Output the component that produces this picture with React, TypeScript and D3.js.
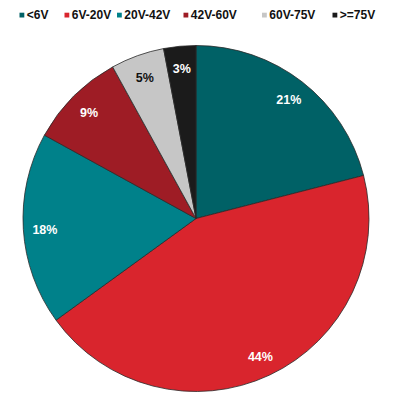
import React from "react";
import * as d3 from "d3";

const categories = ["<6V", "6V-20V", "20V-42V", "42V-60V", "60V-75V", ">=75V"];
const values = [21, 44, 18, 9, 5, 3];
const colors = ["#006166", "#d9252d", "#00818a", "#9e1c25", "#c6c6c6", "#1b1b1b"];
const labelColors = ["#ffffff", "#ffffff", "#ffffff", "#ffffff", "#111111", "#ffffff"];
const legendX = [19.5, 64.5, 117, 183.5, 262, 332.5];

const W = 400, H = 406;
const cx = 196, cy = 218.5, R = 173;
const FONT = "'Liberation Sans', Arial, sans-serif";

export default function App() {
  const data = categories.map((c, i) => ({ c, v: values[i], i }));
  const pie = d3.pie<any>().value((d) => d.v).sort(null);
  const arcs = pie(data);
  const arc = d3.arc<any>().innerRadius(0).outerRadius(R);
  const labelArc = d3.arc<any>().innerRadius(R * 0.875).outerRadius(R * 0.875);
  return (
    <svg width={W} height={H} style={{ position: "absolute", left: 0, top: 0, background: "#fff" }}>
      <g>
        {categories.map((c, i) => (
          <g key={c}>
            <rect x={legendX[i]} y={12.7} width={4.8} height={4.8} fill={colors[i]} />
            <text x={legendX[i] + 7.3} y={19} fontFamily={FONT} fontWeight="bold" fontSize={12} fill="#111">
              {c}
            </text>
          </g>
        ))}
      </g>
      <g transform={`translate(${cx},${cy})`}>
        {arcs.map((a, i) => (
          <path key={i} d={arc(a) as string} fill={colors[i]} stroke="#2a2a2a" strokeWidth={0.8} />
        ))}
        {arcs.map((a, i) => {
          const [x, y] = labelArc.centroid(a);
          return (
            <text key={"l" + i} x={x} y={y + 5.5} textAnchor="middle" fontFamily={FONT} fontWeight="bold" fontSize={12.5} fill={labelColors[i]}>
              {values[i]}%
            </text>
          );
        })}
      </g>
    </svg>
  );
}
